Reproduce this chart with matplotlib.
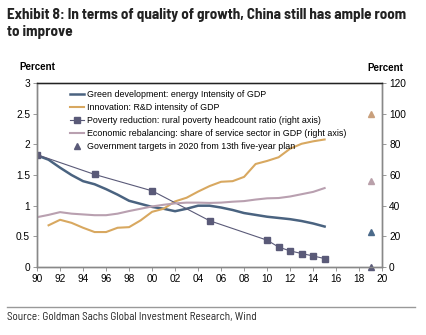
import numpy as np
import matplotlib
matplotlib.use("Agg")
import matplotlib.pyplot as plt

plt.rcParams['font.family'] = ['Liberation Sans', 'DejaVu Sans']

years = np.arange(1990, 2016)
green = [1.82, 1.75, 1.62, 1.50, 1.40, 1.35, 1.27, 1.18, 1.08, 1.03, 0.98, 0.95,
         0.91, 0.95, 1.00, 1.00, 0.97, 0.93, 0.88, 0.85, 0.82, 0.80, 0.78, 0.75,
         0.71, 0.66]
rd_years = np.arange(1991, 2016)
rd = [0.68, 0.77, 0.72, 0.64, 0.57, 0.57, 0.64, 0.65, 0.76, 0.90, 0.95, 1.07,
      1.13, 1.23, 1.32, 1.39, 1.40, 1.47, 1.68, 1.73, 1.79, 1.93, 2.01, 2.05, 2.08]
pov_years = [1990, 1995, 2000, 2005, 2010, 2011, 2012, 2013, 2014, 2015]
poverty = [73.3, 60.4, 49.7, 30.2, 17.5, 13.0, 10.5, 8.8, 7.2, 5.5]
service = [32.5, 34.0, 35.8, 34.8, 34.3, 33.8, 33.8, 34.8, 36.5, 38.0, 39.5, 40.6,
           41.5, 42.0, 42.0, 41.8, 42.0, 42.6, 43.0, 44.0, 44.8, 45.0, 46.0, 47.5,
           49.0, 51.5]
target_year = 2019
targets_right = [100, 56, 22.6, 0]   # R&D, service, energy, poverty (right-axis scale)

c_green = '#4a6380'
c_rd = '#d8a860'
c_pov = '#5a5a78'
c_serv = '#b9a0b0'
tri_cols = ['#c9a07c', '#b9a0aa', '#4b6a8a', '#5a5a78']

fig = plt.figure(figsize=(4.26, 3.35), dpi=100)
ax = fig.add_axes([0.087, 0.203, 0.81, 0.549])
ax2 = ax.twinx()

ax.plot(years, green, color=c_green, lw=1.8, label='Green development: energy Intensity of GDP')
ax.plot(rd_years, rd, color=c_rd, lw=1.5, label='Innovation: R&D intensity of GDP')
l3, = ax2.plot(pov_years, poverty, color=c_pov, lw=0.8, marker='s', ms=5,
               label='Poverty reduction: rural poverty headcount ratio (right axis)')
l4, = ax2.plot(years, service, color=c_serv, lw=1.5,
               label='Economic rebalancing: share of service sector in GDP (right axis)')
for v, c in zip(targets_right, tri_cols):
    ax2.plot(target_year, v, marker='^', color=c, ms=5, ls='none', clip_on=False)
l5, = ax2.plot([], [], marker='^', color=c_pov, ms=5, ls='none',
               label='Government targets in 2020 from 13th five-year plan')

ax.set_xlim(1990, 2020)
ax.set_ylim(0, 3)
ax2.set_ylim(0, 120)
ax.set_xticks(np.arange(1990, 2021, 2))
ax.set_xticklabels(['%02d' % (y % 100) for y in range(1990, 2021, 2)])
ax.set_yticks([0, 0.5, 1, 1.5, 2, 2.5, 3])
ax.set_yticklabels(['0', '0.5', '1', '1.5', '2', '2.5', '3'])
ax2.set_yticks(range(0, 121, 20))

for a in (ax, ax2):
    a.tick_params(labelsize=7.3, length=3, width=0.6, color='#888888', pad=2)
    for s in a.spines.values():
        s.set_color('#888888')
        s.set_linewidth(1.0)
ax2.spines['top'].set_color('#222222')

h1, lab1 = ax.get_legend_handles_labels()
leg = ax.legend(h1 + [l3, l4, l5], lab1 + [l3.get_label(), l4.get_label(), l5.get_label()],
                loc='upper left', bbox_to_anchor=(0.095, 0.962), fontsize=6.4, frameon=False,
                handlelength=1.6, handletextpad=0.35, labelspacing=0.45,
                borderaxespad=0, borderpad=0)

fig.text(0.087, 0.790, 'Percent', fontsize=7, fontweight='bold', ha='center')
fig.text(0.904, 0.787, 'Percent', fontsize=7, fontweight='bold', ha='center')

fig.text(0.016, 0.975, 'Exhibit 8: In terms of quality of growth, China still has ample room\nto improve',
         fontsize=10.9, fontweight='bold', family=['Barlow Semi Condensed', 'DejaVu Sans'],
         va='top', linespacing=1.2, color='#222222')
fig.add_artist(plt.Line2D([0.016, 0.975], [0.085, 0.085], color='#999999', lw=1.0))
fig.text(0.016, 0.045, 'Source: Goldman Sachs Global Investment Research, Wind',
         fontsize=8, family=['Barlow Semi Condensed', 'DejaVu Sans'], color='#222222')

fig.savefig('out.png', dpi=100)
